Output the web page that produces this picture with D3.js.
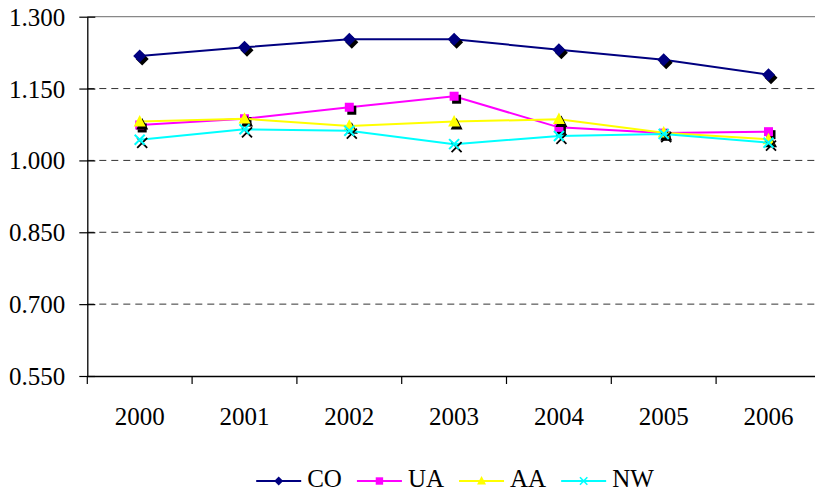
<!DOCTYPE html>
<html>
<head>
<meta charset="utf-8">
<script src="https://cdn.jsdelivr.net/npm/d3@7"></script>
<style>
  html, body { margin: 0; padding: 0; background: #fff; }
  svg { display: block; }
  svg text { font-family: "Liberation Serif", serif; fill: #000; }
</style>
</head>
<body>
<svg id="chart" width="815" height="491"></svg>
<script>
// Yearly index values per carrier
const years = ["2000", "2001", "2002", "2003", "2004", "2005", "2006"];
const CO = [1.218, 1.236, 1.253, 1.253, 1.231, 1.210, 1.179];
const UA = [1.074, 1.087, 1.111, 1.134, 1.069, 1.057, 1.060];
const AA = [1.081, 1.087, 1.072, 1.081, 1.086, 1.058, 1.044];
const NW = [1.043, 1.065, 1.062, 1.034, 1.051, 1.055, 1.037];
const yTicks = [0.550, 0.700, 0.850, 1.000, 1.150, 1.300];

const series = [
  { name: "CO", values: CO, color: "#000080", shape: "diamond" },
  { name: "UA", values: UA, color: "#FF00FF", shape: "square" },
  { name: "AA", values: AA, color: "#FFFF00", shape: "triangle" },
  { name: "NW", values: NW, color: "#00FFFF", shape: "cross" }
];

const svg = d3.select("#chart");
const plot = { left: 87.3, top: 16.7, right: 87.3 + 7 * 104.8, bottom: 376 };

const x = d3.scaleBand().domain(years).range([plot.left, plot.right]);
const y = d3.scaleLinear().domain([0.55, 1.30]).range([plot.bottom, plot.top]);

// marker path builders, s = half size
function markerPath(shape, s) {
  const p = d3.path();
  if (shape === "diamond") {
    p.moveTo(0, -s); p.lineTo(s, 0); p.lineTo(0, s); p.lineTo(-s, 0); p.closePath();
  } else if (shape === "square") {
    p.rect(-s, -s, 2 * s, 2 * s);
  } else if (shape === "triangle") {
    p.moveTo(0, -s * 1.1); p.lineTo(s, s * 0.8); p.lineTo(-s, s * 0.8); p.closePath();
  } else {
    p.moveTo(-s, -s); p.lineTo(s, s); p.moveTo(s, -s); p.lineTo(-s, s);
  }
  return p.toString();
}
const markerSize = { diamond: 6.5, square: 4.5, triangle: 6, cross: 5 };

// dashed gridlines; solid gray border along the top
svg.append("g")
  .selectAll("line")
  .data(yTicks.filter(v => v > 0.55 && v < 1.3))
  .join("line")
  .attr("x1", plot.left).attr("x2", 815)
  .attr("y1", d => y(d)).attr("y2", d => y(d))
  .attr("stroke", "#333").attr("stroke-width", 1)
  .attr("stroke-dasharray", "7,5");

svg.append("line")
  .attr("x1", plot.left).attr("x2", 815)
  .attr("y1", y(1.30)).attr("y2", y(1.30))
  .attr("stroke", "#888").attr("stroke-width", 1.2);

// y axis with crossing tick marks
const yAxis = d3.axisLeft(y).tickValues(yTicks).tickFormat(d3.format(".3f")).tickSize(0).tickPadding(0);
const gy = svg.append("g").attr("transform", `translate(${plot.left},0)`).call(yAxis)
  .attr("font-family", null).attr("font-size", 25);
gy.select(".domain").attr("stroke", "#000").attr("stroke-width", 1.3);
gy.selectAll(".tick line").remove();
gy.selectAll(".tick").append("line")
  .attr("x1", -8).attr("x2", 8).attr("stroke", "#000").attr("stroke-width", 1.2);
gy.selectAll(".tick text").attr("x", -22).attr("dy", "0.34em");

// x axis with category separators
const xAxis = d3.axisBottom(x).tickSize(0).tickPadding(0);
const gx = svg.append("g").attr("transform", `translate(0,${plot.bottom})`).call(xAxis)
  .attr("font-family", null).attr("font-size", 25);
gx.select(".domain").attr("stroke", "#000").attr("stroke-width", 1.3);
gx.selectAll(".tick text").attr("y", 49).attr("dy", 0);
gx.append("g").selectAll("line")
  .data(years)
  .join("line")
  .attr("x1", d => x(d)).attr("x2", d => x(d))
  .attr("y1", 0).attr("y2", 8)
  .attr("stroke", "#000").attr("stroke-width", 1.2);

const cx = d => x(d) + x.bandwidth() / 2;

// series lines and shadowed markers
const line = d3.line().x((d, i) => cx(years[i])).y(d => y(d));

series.forEach(s => {
  const g = svg.append("g");
  g.append("path")
    .attr("d", line(s.values))
    .attr("fill", "none")
    .attr("stroke", s.color)
    .attr("stroke-width", 2);

  const r = markerSize[s.shape];
  const pts = s.values.map((v, i) => ({ x: cx(years[i]), y: y(v) }));
  const isCross = s.shape === "cross";

  g.selectAll("path.shadow").data(pts).join("path")
    .attr("class", "shadow")
    .attr("transform", d => `translate(${d.x + 2.5},${d.y + 3})`)
    .attr("d", markerPath(s.shape, r))
    .attr("fill", isCross ? "none" : "#000")
    .attr("stroke", isCross ? "#000" : "none")
    .attr("stroke-width", isCross ? 1.8 : 0);

  g.selectAll("path.mark").data(pts).join("path")
    .attr("class", "mark")
    .attr("transform", d => `translate(${d.x},${d.y})`)
    .attr("d", markerPath(s.shape, r))
    .attr("fill", isCross ? "none" : s.color)
    .attr("stroke", isCross ? s.color : "none")
    .attr("stroke-width", isCross ? 2 : 0);
});

// legend, centred under the plot
const legend = svg.append("g").attr("font-size", 25);
const items = legend.selectAll("g").data(series).join("g");
items.append("line")
  .attr("x1", 0).attr("x2", 45).attr("y1", 0).attr("y2", 0)
  .attr("stroke", d => d.color).attr("stroke-width", 2);
items.append("path")
  .attr("transform", "translate(22.5,0)")
  .attr("d", d => markerPath(d.shape, d.shape === "diamond" ? 4.5 : d.shape === "triangle" ? 4.5 : 3.7))
  .attr("fill", d => d.shape === "cross" ? "none" : d.color)
  .attr("stroke", d => d.shape === "cross" ? d.color : "none")
  .attr("stroke-width", 1.6);
items.append("text").attr("x", 51).attr("y", 6).text(d => d.name);

const widths = [];
items.each(function () {
  widths.push(51 + this.querySelector("text").getComputedTextLength());
});
const gap = 15;
const total = d3.sum(widths) + gap * (widths.length - 1);
let start = 455 - total / 2;
items.attr("transform", (d, i) => {
  const t = `translate(${start},481)`;
  start += widths[i] + gap;
  return t;
});
</script>
</body>
</html>
